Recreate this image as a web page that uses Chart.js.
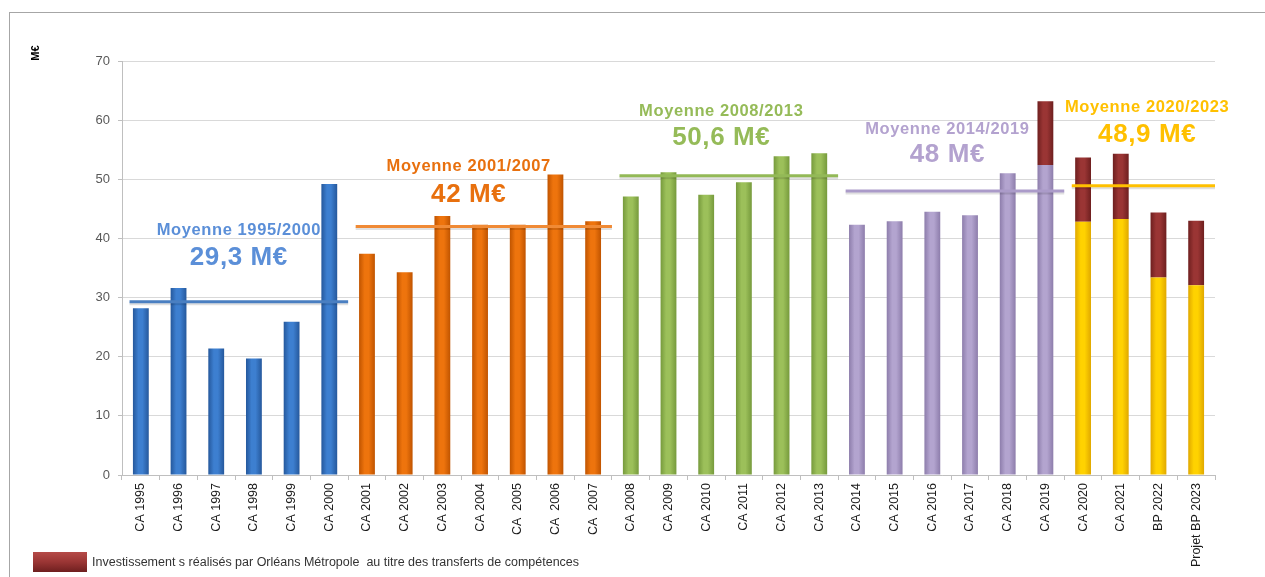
<!DOCTYPE html>
<html>
<head>
<meta charset="utf-8">
<script src="https://cdn.jsdelivr.net/npm/chart.js@4/dist/chart.umd.min.js"></script>
<style>
    body { margin: 0; background: #fff; }
    #wrap { position: relative; width: 1265px; height: 577px; }
    #frame { position: absolute; left: 9px; top: 12px; right: 0; bottom: 0; border-top: 1px solid #a6a6a6; border-left: 1px solid #a6a6a6; pointer-events: none; }
</style>
</head>
<body>
<div id="wrap">
    <canvas id="invChart" width="1265" height="577"></canvas>
    <div id="frame"></div>
</div>
<script>
const labels = ['CA 1995', 'CA 1996', 'CA 1997', 'CA 1998', 'CA 1999', 'CA 2000',
    'CA 2001', 'CA 2002', 'CA 2003', 'CA 2004', 'CA  2005', 'CA  2006', 'CA  2007',
    'CA 2008', 'CA 2009', 'CA 2010', 'CA 2011', 'CA 2012', 'CA 2013',
    'CA 2014', 'CA 2015', 'CA 2016', 'CA 2017', 'CA 2018', 'CA 2019',
    'CA 2020', 'CA 2021', 'BP 2022', 'Projet BP 2023'];

const baseValues = [28.2, 31.6, 21.4, 19.7, 25.9, 49.2,
    37.4, 34.3, 43.8, 42.3, 42.3, 50.8, 42.9,
    47.1, 51.2, 47.4, 49.5, 53.9, 54.4,
    42.3, 42.9, 44.5, 43.9, 51.0, 52.4,
    42.8, 43.3, 33.4, 32.1];

const transferValues = [null, null, null, null, null, null,
    null, null, null, null, null, null, null,
    null, null, null, null, null, null,
    null, null, null, null, null, 10.8,
    10.9, 11.0, 11.0, 10.9];

const groupPeriods = ['1995/2000', '2001/2007', '2008/2013', '2014/2019', '2020/2023'];
const groupFirst = [0, 6, 13, 19, 25];
const groupLast = [5, 12, 18, 24, 28];
const averageValues = [29.3, 42, 50.6, 48, 48.9];
const averageTexts = ['29,3 M€', '42 M€', '50,6 M€', '48 M€', '48,9 M€'];

const transferLabel = 'Investissement s réalisés par Orléans Métropole  au titre des transferts de compétences';

// styles
const groupColors = ['#3d7fd0', '#ee740d', '#9cc05a', '#b3a4cf', '#ffd200'];
const groupEdges = ['#25589c', '#c05400', '#769a3c', '#8d7dab', '#e0a800'];
const lineColors = ['#4a7fc1', '#f08a35', '#93b957', '#ab9bc9', '#ffc000'];
const textColors = ['#5b8fd8', '#e8700e', '#95bb58', '#b3a2cf', '#ffc000'];
const redColor = '#9a3534';
const redEdge = '#6e1f1f';
const barPct = 0.42;

// where the average captions sit (category index, value)
const captionX = [2.6, 8.7, 15.4, 21.4, 26.7];
const captionTitleY = [41.3, 52.1, 61.5, 58.5, 62.2];
const captionValueY = [36.7, 47.3, 57.0, 54.1, 57.5];

function groupOf(i) {
    for (let g = 0; g < groupFirst.length; g++) {
        if (i >= groupFirst[g] && i <= groupLast[g]) return g;
    }
    return 0;
}

function barFill(mid, edge) {
    return function (context) {
        const chart = context.chart;
        const x = chart.scales.x;
        const m = typeof mid === 'function' ? mid(context.dataIndex) : mid;
        const e = typeof edge === 'function' ? edge(context.dataIndex) : edge;
        if (!x || !chart.chartArea || !isFinite(x.width) || x.width <= 0) return m;
        const cx = x.getPixelForValue(context.dataIndex);
        const half = x.width / labels.length * barPct / 2;
        const g = chart.ctx.createLinearGradient(cx - half, 0, cx + half, 0);
        g.addColorStop(0, e);
        g.addColorStop(0.35, m);
        g.addColorStop(0.6, m);
        g.addColorStop(1, e);
        return g;
    };
}

const averagePlugin = {
    id: 'averages',
    afterDatasetsDraw(chart) {
        const ctx = chart.ctx;
        const x = chart.scales.x;
        const y = chart.scales.y;
        const area = chart.chartArea;
        ctx.save();
        for (let g = 0; g < averageValues.length; g++) {
            const yy = y.getPixelForValue(averageValues[g]);
            const x0 = Math.max(area.left - 2, x.getPixelForValue(groupFirst[g] - 0.3));
            const x1 = x.getPixelForValue(groupLast[g] + 0.5);
            ctx.strokeStyle = 'rgba(0,0,0,0.12)';
            ctx.lineWidth = 3;
            ctx.beginPath();
            ctx.moveTo(x0, yy + 2);
            ctx.lineTo(x1, yy + 2);
            ctx.stroke();
            ctx.strokeStyle = lineColors[g];
            ctx.beginPath();
            ctx.moveTo(x0, yy);
            ctx.lineTo(x1, yy);
            ctx.stroke();

            const cx = x.getPixelForValue(captionX[g]);
            ctx.fillStyle = textColors[g];
            ctx.textAlign = 'center';
            ctx.textBaseline = 'middle';
            ctx.letterSpacing = '0.6px';
            ctx.font = 'bold 16.5px "Liberation Sans", Arial, sans-serif';
            ctx.fillText('Moyenne ' + groupPeriods[g], cx, y.getPixelForValue(captionTitleY[g]));
            ctx.font = 'bold 26px "Liberation Sans", Arial, sans-serif';
            ctx.fillText(averageTexts[g], cx, y.getPixelForValue(captionValueY[g]));
        }
        ctx.letterSpacing = '0px';

        // unit label
        ctx.save();
        ctx.translate(area.left - 86, area.top - 8);
        ctx.rotate(-Math.PI / 2);
        ctx.fillStyle = '#000';
        ctx.font = 'bold 11px "Liberation Sans", Arial, sans-serif';
        ctx.textAlign = 'center';
        ctx.textBaseline = 'middle';
        ctx.fillText('M€', 0, 0);
        ctx.restore();

        // legend for the transfers
        const lx = 33, ly = 552, lw = 54, lh = 20;
        const lg = ctx.createLinearGradient(0, ly, 0, ly + lh);
        lg.addColorStop(0, '#b54a48');
        lg.addColorStop(0.5, redColor);
        lg.addColorStop(1, redEdge);
        ctx.fillStyle = lg;
        ctx.fillRect(lx, ly, lw, lh);
        ctx.fillStyle = '#333';
        ctx.font = '12.5px "Liberation Sans", Arial, sans-serif';
        ctx.textAlign = 'left';
        ctx.textBaseline = 'middle';
        ctx.fillText(transferLabel, lx + lw + 5, ly + lh / 2 + 1);
        ctx.restore();
    }
};

Chart.defaults.font.family = '"Liberation Sans", Arial, sans-serif';

new Chart(document.getElementById('invChart').getContext('2d'), {
    type: 'bar',
    data: {
        labels: labels,
        datasets: [{
            label: 'Investissements',
            data: baseValues,
            backgroundColor: barFill(i => groupColors[groupOf(i)], i => groupEdges[groupOf(i)]),
            borderWidth: 0,
            barPercentage: barPct,
            categoryPercentage: 1
        }, {
            label: transferLabel,
            data: transferValues,
            backgroundColor: barFill(redColor, redEdge),
            borderWidth: 0,
            barPercentage: barPct,
            categoryPercentage: 1
        }]
    },
    options: {
        responsive: false,
        animation: false,
        layout: {
            padding: { top: 61, right: 50, left: 0, bottom: 0 }
        },
        plugins: {
            legend: { display: false },
            tooltip: { enabled: false }
        },
        scales: {
            x: {
                stacked: true,
                grid: {
                    display: true,
                    drawOnChartArea: false,
                    drawTicks: true,
                    tickLength: 5,
                    color: '#bfbfbf'
                },
                border: { color: '#bfbfbf' },
                ticks: {
                    minRotation: 90,
                    maxRotation: 90,
                    autoSkip: false,
                    color: '#1a1a1a',
                    font: { size: 12.5 },
                    padding: 3
                },
                afterFit(scale) { scale.height = 102; }
            },
            y: {
                stacked: true,
                min: 0,
                max: 70,
                ticks: {
                    stepSize: 10,
                    color: '#595959',
                    font: { size: 13 },
                    padding: 8
                },
                grid: {
                    color: '#d9d9d9',
                    tickLength: 4,
                    tickColor: '#bfbfbf'
                },
                border: { color: '#bfbfbf' },
                afterFit(scale) { scale.width = 122; }
            }
        }
    },
    plugins: [averagePlugin]
});
</script>
</body>
</html>
